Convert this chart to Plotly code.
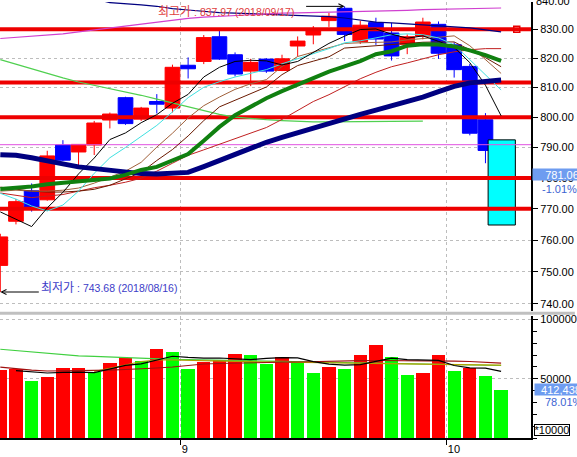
import math
import plotly.graph_objects as go

# ---------------- data ----------------
dates = ["08/16", "08/17", "08/20", "08/21", "08/22", "08/23", "08/24", "08/27", "08/28", "08/29", "08/30", "08/31",
         "09/03", "09/04", "09/05", "09/06", "09/07", "09/10", "09/11", "09/12", "09/13", "09/14", "09/17", "09/18",
         "09/19", "09/20", "09/21", "09/27", "09/28",
         "10/01", "10/02", "10/04", "10/05"]

opens = [752.0, 766.0, 775.8, 772.9, 790.8, 788.5, 790.8, 799.1, 806.6, 799.4, 805.3, 803.1, 817.6, 818.9, 827.4,
         821.2, 815.6, 819.7, 815.8, 824.2, 828.0, 833.0, 837.3, 825.7, 832.3, 828.7, 824.8, 827.6, 831.7, 824.6,
         817.2, 799.2, 784.8]
highs = [762.0, 773.2, 778.2, 788.9, 792.4, 791.1, 798.8, 801.6, 806.9, 803.5, 807.8, 817.8, 820.3, 828.0, 829.4,
         822.0, 819.8, 820.0, 821.2, 827.5, 831.1, 835.7, 837.97, 832.9, 834.0, 832.2, 828.2, 834.0, 832.7, 825.5,
         818.1, 801.4, 790.8]
lows = [743.68, 765.0, 769.1, 772.6, 785.5, 783.4, 787.5, 796.3, 797.5, 798.8, 801.3, 801.6, 813.1, 818.0, 819.4,
        813.8, 810.5, 815.0, 815.6, 820.6, 824.8, 830.8, 825.9, 824.9, 824.6, 819.2, 821.4, 826.5, 819.8, 813.4,
        794.0, 784.8, 770.2]
closes = [761.0, 772.3, 770.4, 787.2, 785.8, 791.0, 798.1, 801.1, 797.9, 803.1, 804.4, 816.9, 816.4, 827.1, 819.7,
          814.6, 818.6, 815.6, 819.8, 825.9, 829.7, 834.5, 828.2, 831.4, 826.6, 820.8, 827.4, 832.5, 821.7, 816.1,
          794.7, 789.0, 781.06]

volumes = [57800, 58900, 48600, 51900, 59500, 59600, 56400, 63700, 67700, 65400, 75300, 73000, 58700, 64800, 66000,
           71300, 70500, 63200, 68600, 64600, 55600, 60400, 58700, 70500, 79200, 68800, 53900, 55600, 70500, 57300,
           59300, 52800, 41244]

ma5 = [769.0, 766.6, 764.3, 770.3, 775.3, 781.3, 786.5, 792.6, 794.8, 798.2, 800.9, 804.7, 807.7, 813.6, 816.9,
       818.9, 819.3, 819.1, 817.7, 818.9, 821.9, 825.1, 827.6, 829.9, 830.1, 828.3, 826.9, 827.7, 825.8, 823.7,
       818.5, 810.8, 800.5]
ma_cyan = [775.0, 773.1, 770.9, 769.3, 771.2, 775.7, 781.5, 786.6, 790.0, 793.5, 797.3, 801.8, 806.6, 810.1, 812.0,
           813.6, 814.9, 816.1, 818.1, 819.8, 821.5, 823.3, 825.3, 826.0, 827.0, 828.1, 828.4, 828.1, 827.0, 824.6,
           819.5, 814.4, 809.2]
ma_brown = [775.7, 776.0, 775.7, 775.7, 776.0, 776.7, 778.3, 780.2, 782.2, 785.1, 790.1, 794.7, 799.8, 803.9, 806.8,
            809.4, 811.3, 812.7, 817.2, 820.6, 822.1, 823.7, 825.1, 825.3, 825.4, 825.6, 826.3, 826.8, 827.4, 827.7,
            824.3, 819.5, 814.8]
ma_maroon = [777.0, 776.3, 775.7, 775.4, 775.4, 775.7, 776.3, 777.6, 779.6, 781.8, 785.7, 789.3, 793.8, 798.9, 803.5,
             805.7, 807.9, 810.2, 814.4, 817.5, 819.0, 820.5, 823.5, 823.9, 824.3, 824.6, 825.1, 825.5, 825.6, 825.6,
             822.9, 820.2, 817.1]
ma_red = [775.1, 774.4, 773.6, 774.1, 774.6, 775.7, 776.8, 777.6, 778.6, 779.9, 782.2, 784.8, 787.4, 789.2, 791.0,
          793.0, 794.8, 796.6, 799.3, 802.4, 805.3, 807.6, 810.2, 813.0, 815.2, 817.1, 818.4, 819.8, 821.2, 822.2,
          822.9, 823.3, 823.3]
ma_green = [776.4, 776.7, 777.2, 777.9, 778.3, 778.8, 779.3, 779.8, 781.0, 782.6, 783.6, 785.6, 787.8, 792.2, 796.8,
            800.7, 803.5, 806.4, 808.8, 811.1, 813.3, 815.4, 817.2, 819.0, 821.4, 822.4, 824.3, 824.8, 824.7, 824.0,
            822.7, 821.1, 819.1]
ma_navy = [787.6, 787.4, 786.6, 785.8, 784.6, 783.6, 783.0, 782.3, 781.7, 781.4, 781.3, 781.5, 781.8, 783.7, 785.7,
           787.8, 789.6, 791.7, 793.3, 794.9, 796.4, 797.9, 799.5, 801.0, 802.4, 803.8, 805.2, 806.8, 808.6, 810.4,
           811.6, 812.3, 812.6]
ma_lightgreen = [819.5, 817.9, 816.3, 814.8, 813.3, 811.9, 810.8, 809.7, 808.6, 807.4, 806.1, 804.8, 803.5, 802.3,
                 801.0, 800.1, 799.6, 799.2, 798.9, 798.6, 798.5, 798.5, 798.5, 798.5, 798.5, 798.5, 798.5, 798.7,
                 None, None, None, None, None]
ma_magenta = [826.8, 827.2, 827.6, 828.0, 828.4, 829.1, 829.8, 830.3, 831.0, 831.8, 832.5, 833.3, 833.8, 834.2, 834.5,
              834.8, 835.1, 835.4, 835.6, 835.7, 835.8, 835.9, 836.0, 836.2, 836.3, 836.4, 836.6, 836.8, 836.9, 837.1,
              837.2, 837.3, 837.4]
ma_navy_thin = [845.5, 844.8, 844.0, 843.2, 842.4, 841.6, 840.6, 839.3, 839.0, 838.5, 838.0, 837.2, 836.7, 836.2,
                835.8, 835.6, 835.4, 835.1, 834.9, 834.8, 834.6, 834.4, 833.9, 833.2, 832.5, 832.2, 831.8, 831.5,
                831.1, 830.8, 830.5, 829.8, 829.1]

vol_ma5 = [None, 56900, 55700, 54900, 55360, 55700, 55190, 58230, 61380, 62560, 65720, 69040, 68030, 67450, 67570,
           66780, 66270, 67170, 67910, 67620, 64470, 62450, 61550, 61940, 64860, 67500, 66210, 65580, 65580, 61200,
           59290, 59070, 56210]
vol_ma_green = [74960, 73860, 72350, 71080, 70240, 69400, 68890, 68300, 67620, 67120, 66610, 66360, 66190, 65940,
                65600, 65350, 65100, 64840, 64590, 64420, 64250, 64080, 63830, 63580, 63410, 63240, 62990, 62820,
                62650, 62230, 61890, 61550, 61220]
vol_ma_darkred = [59780, 58500, 57300, 56580, 56700, 56850, 57000, 57400, 57850, 58270, 59100, 59950, 61200, 62480,
                  62900, 63300, 63750, 63900, 64050, 64170, 64600, 65010, 65150, 65300, 65430, 65430, 65430, 65430,
                  65430, 65000, 64590, 63900, 63160]
vol_ma_olive = [None, None, None, None, None, None, 56160, 58690, 61640, 64590, 65850, 65850, 65430, 65180, 64930,
                64670, 64420, 64170, 64000, 63750, 63500, 63330, 63160, 63000, 62820, 62650, 62480, 62310, 62150,
                61980, 61810, 61640, 61470]

red_levels = [830, 811.7, 800, 780, 770]
pink_level = 790.9
box_low, box_high = 764.8, 792.5
high_text = "최고가 : 837.97 (2018/09/17)"
low_text = "최저가 : 743.68 (2018/08/16)"
last_price_text = "781.06"
last_change_text = "-1.01%"
last_volume_text = "412,438"
volume_ratio_text = "78.01%"
volume_unit_text = "*10000"
price_ticks = list(range(740, 840, 10))

# ---------------- helpers ----------------
x = list(range(len(dates)))
n = len(x)
i_max = highs.index(max(highs))
i_min = lows.index(min(lows))

month_ticks, month_labels = [], []
for i in range(1, n):
    if dates[i][:2] != dates[i - 1][:2]:
        month_ticks.append(i - 0.5)
        month_labels.append(str(int(dates[i][:2])))

vol_colors = []
for i, v in enumerate(volumes):
    if i == 0 or v >= volumes[i - 1]:
        vol_colors.append("#FF0000")
    else:
        vol_colors.append("#00FF00")

FONT = "Liberation Sans, Arial, Noto Sans CJK KR, sans-serif"
GRID = "#BDBDBD"

fig = go.Figure()

# cyan highlight box around the last candle
bx0, bx1 = x[-1] - 0.83, x[-1] + 0.91
fig.add_trace(go.Scatter(x=[bx0, bx1, bx1, bx0, bx0], y=[box_low, box_low, box_high, box_high, box_low],
                         mode="lines", fill="toself", fillcolor="#00FFFF",
                         line=dict(color="#000000", width=1), hoverinfo="skip", xaxis="x", yaxis="y"))

fig.add_trace(go.Candlestick(x=x, open=opens, high=highs, low=lows, close=closes,
                             increasing=dict(line=dict(color="#FF0000", width=1), fillcolor="#FF0000"),
                             decreasing=dict(line=dict(color="#0000FF", width=1), fillcolor="#0000FF"),
                             whiskerwidth=0, xaxis="x", yaxis="y"))

# horizontal levels
fig.add_trace(go.Scatter(x=[-1, n + 2], y=[pink_level, pink_level], mode="lines",
                         line=dict(color="#E050E0", width=1), hoverinfo="skip"))
for lv in red_levels:
    fig.add_trace(go.Scatter(x=[-1, n + 2], y=[lv, lv], mode="lines",
                             line=dict(color="#EE0000", width=4), hoverinfo="skip"))
fig.add_trace(go.Scatter(x=[n], y=[red_levels[0]], mode="markers",
                         marker=dict(symbol="square-open", size=6, color="#E80000", line=dict(width=1.5)),
                         hoverinfo="skip"))

# moving averages (main)
def ma_line(vals, color, width, xa="x", ya="y"):
    fig.add_trace(go.Scatter(x=x, y=vals, mode="lines", line=dict(color=color, width=width),
                             hoverinfo="skip", xaxis=xa, yaxis=ya, connectgaps=False))

ma_line(ma_navy_thin, "#000080", 1.2)
ma_line(ma_magenta, "#D040D0", 1.2)
ma_line(ma_lightgreen, "#50D050", 1.2)
ma_line(ma_red, "#C02020", 1)
ma_line(ma_maroon, "#6B1A00", 1)
ma_line(ma_brown, "#A0603A", 1)
ma_line(ma_cyan, "#40E0E0", 1)
ma_line(ma5, "#000000", 1)
ma_line(ma_navy, "#000080", 5)
ma_line(ma_green, "#108010", 4)

# volume
fig.add_trace(go.Bar(x=x, y=volumes, marker=dict(color=vol_colors, line=dict(width=0)), width=0.85,
                     xaxis="x2", yaxis="y2", hoverinfo="skip"))
ma_line(vol_ma_green, "#40D040", 1.2, "x2", "y2")
ma_line(vol_ma_olive, "#B0A000", 1.2, "x2", "y2")
ma_line(vol_ma_darkred, "#A01010", 1.2, "x2", "y2")
ma_line(vol_ma5, "#000000", 1.2, "x2", "y2")

# ---------------- layout ----------------
H_PLOT = 438.0
main_bottom_px, vol_top_px = 310.0, 315.0
ymin_log, ymax_log = math.log10(737.93), math.log10(839.5)

axis_font = dict(family=FONT, size=11, color="#000000")

fig.update_layout(
    width=577, height=457, margin=dict(l=0, r=44, t=0, b=19),
    paper_bgcolor="white", plot_bgcolor="white", showlegend=False,
    boxgap=0.06, boxgroupgap=0, bargap=0, hovermode=False,
    font=axis_font,
    xaxis=dict(domain=[0, 1], range=[-0.02, 33.91], anchor="y", tickmode="array", tickvals=month_ticks,
               showticklabels=False, ticks="", showgrid=True, gridcolor=GRID, griddash="3px,3px",
               zeroline=False, showline=False, rangeslider=dict(visible=False)),
    yaxis=dict(domain=[(H_PLOT - main_bottom_px) / H_PLOT, 1], type="log", range=[ymin_log, ymax_log],
               side="right", anchor="x", tickmode="array", tickvals=price_ticks,
               ticktext=[f"{v:.2f}" for v in price_ticks], ticks="outside", ticklen=5, tickcolor="#000",
               showline=True, linecolor="#000", linewidth=2, showgrid=True, gridcolor=GRID,
               griddash="3px,3px", zeroline=False, tickfont=axis_font),
    xaxis2=dict(domain=[0, 1], matches="x", anchor="y2", tickmode="array", tickvals=month_ticks,
                ticktext=month_labels, ticks="outside", ticklen=5, tickcolor="#000", showline=True,
                linecolor="#000", linewidth=2, showgrid=True, gridcolor=GRID, griddash="3px,3px",
                zeroline=False, ticklabelposition="outside right", tickfont=axis_font),
    yaxis2=dict(domain=[0, (H_PLOT - vol_top_px) / H_PLOT], range=[0, 103400], side="right", anchor="x2",
                tickmode="array", tickvals=[50000, 100000], ticktext=["50000", "100000"], ticks="outside",
                ticklen=5, tickcolor="#000", showline=True, linecolor="#000", linewidth=2, showgrid=True,
                gridcolor=GRID, griddash="3px,3px", zeroline=False, tickfont=axis_font,
                minor=dict(tickmode="linear", tick0=0, dtick=10000, ticks="outside", ticklen=4,
                           tickcolor="#000", showgrid=False)),
)

# separator between panels
fig.add_shape(type="line", xref="paper", yref="paper", x0=0, x1=577 / 533, y0=(H_PLOT - 312.7) / H_PLOT,
              y1=(H_PLOT - 312.7) / H_PLOT, line=dict(color="#C0C0C0", width=3))

kor = "<span style='font-size:12px'>{}</span>{}"
fig.add_annotation(xref="paper", yref="paper", x=159 / 533, y=1 - 10 / H_PLOT, xanchor="left", yanchor="middle",
                   text=kor.format(high_text[:3], high_text[3:]), showarrow=False,
                   font=dict(family=FONT, size=10.5, color="#E04040"), xshift=-2)
fig.add_annotation(xref="x", yref="y", x=i_max, y=math.log10(highs[i_max]), ax=-40, ay=0, text="",
                   showarrow=True, arrowhead=5, arrowsize=1, arrowwidth=1, arrowcolor="#000")
fig.add_annotation(xref="paper", yref="paper", x=41 / 533, y=1 - 287 / H_PLOT, xanchor="left", yanchor="middle",
                   text=kor.format(low_text[:3], low_text[3:]), showarrow=False,
                   font=dict(family=FONT, size=10.5, color="#3C3CC8"), xshift=-2)
fig.add_annotation(xref="x", yref="y", x=i_min, y=math.log10(lows[i_min]), ax=40, ay=0, text="",
                   showarrow=True, arrowhead=5, arrowsize=1, arrowwidth=1, arrowcolor="#000")

# right side labels
fig.add_annotation(xref="paper", yref="paper", x=1, y=1 + 1.5 / H_PLOT, xanchor="left", yanchor="middle",
                   text="840.00", showarrow=False, font=axis_font, xshift=3)
fig.add_annotation(xref="paper", yref="y", x=1, y=math.log10(closes[-1]), xanchor="left", yanchor="middle",
                   text=last_price_text, showarrow=False, bgcolor="#6E9CF0", width=58, height=11, borderpad=0,
                   font=dict(family=FONT, size=11, color="white"), xshift=1)
fig.add_annotation(xref="paper", yref="paper", x=1, y=1 - 188 / H_PLOT, xanchor="left", yanchor="middle",
                   text=last_change_text, showarrow=False, font=dict(family=FONT, size=11, color="#3C64D2"),
                   xshift=9)
fig.add_annotation(xref="paper", yref="paper", x=1, y=(H_PLOT - 389) / H_PLOT, xanchor="left", yanchor="middle",
                   text=last_volume_text, showarrow=False, bgcolor="#6E9CF0", width=52, height=11, borderpad=0,
                   font=dict(family=FONT, size=11, color="white"), xshift=3)
fig.add_annotation(xref="paper", yref="paper", x=1, y=(H_PLOT - 401.7) / H_PLOT, xanchor="left",
                   yanchor="middle", text=volume_ratio_text, showarrow=False,
                   font=dict(family=FONT, size=11, color="#3C64D2"), xshift=12)
fig.add_annotation(xref="paper", yref="paper", x=1, y=(H_PLOT - 429.5) / H_PLOT, xanchor="left",
                   yanchor="middle", text=volume_unit_text, showarrow=False, bgcolor="white",
                   bordercolor="#000", borderwidth=1, borderpad=0, width=34, height=10,
                   font=dict(family=FONT, size=11, color="#000"), xshift=3)

fig.write_html("out.html", config={"displayModeBar": False},
               post_script="document.body.style.margin='0px';document.body.style.overflow='hidden';")
